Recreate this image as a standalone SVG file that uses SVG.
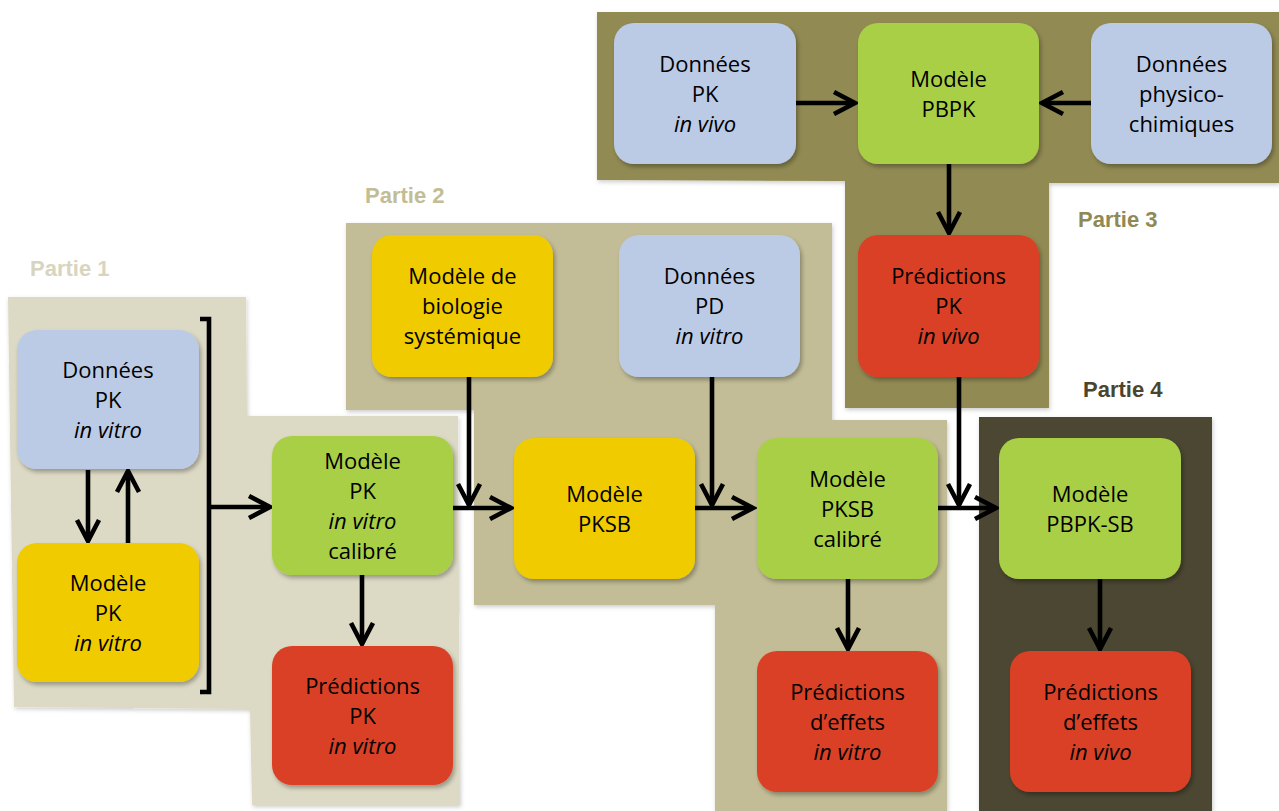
<svg xmlns="http://www.w3.org/2000/svg" width="1279" height="811" viewBox="0 0 1279 811">
<style>
.t{font-family:"Open Sans","Liberation Sans",sans-serif;font-size:22px;fill:#000;text-anchor:middle}
.i{font-style:italic}
.lab{font-family:"Liberation Sans",Arial,sans-serif;font-weight:bold;font-size:22px}
.blue{fill:#bccbe5}.green{fill:#a9cf46}.yellow{fill:#f0cb00}.red{fill:#da4125}
.c{stroke:#000;stroke-width:4.6;fill:none}
.a{marker-end:url(#arr)}
</style>
<defs>
<filter id="sh" x="-10%" y="-10%" width="130%" height="130%"><feDropShadow dx="2" dy="3" stdDeviation="2" flood-color="#000" flood-opacity="0.3"/></filter>
<filter id="bsh" x="-5%" y="-5%" width="110%" height="110%"><feDropShadow dx="1" dy="2" stdDeviation="2" flood-color="#000" flood-opacity="0.2"/></filter>
<marker id="arr" markerUnits="userSpaceOnUse" viewBox="-26 -15 30 30" markerWidth="30" markerHeight="30" refX="0" refY="0" orient="auto" overflow="visible">
<path d="M-21,-11 L0,0 L-21,11" fill="none" stroke="#000" stroke-width="4.6"/>
</marker>
</defs>

<g id="backgrounds">
<polygon id="bg-partie1" filter="url(#bsh)" fill="#dcd9c4" points="8,297 246,297 247,416 458,416 460,805 252,805 250,709 14,707"/>
<polygon id="bg-partie2" filter="url(#bsh)" fill="#c2bd96" points="346,223 832,223 832,420 947,420 947,811 715,811 715,605 474,605 474,410 346,410"/>
<polygon id="bg-partie3" filter="url(#bsh)" fill="#918a52" points="597,12 1279,12 1279,183 1049,183 1049,408 845,408 845,181 597,180"/>
<rect id="bg-partie4" filter="url(#bsh)" fill="#4b4630" x="979" y="417" width="233" height="394"/>
</g>

<g id="labels">
<text class="lab" x="30" y="276" fill="#d8d5bf">Partie 1</text>
<text class="lab" x="365" y="203" fill="#c2bd96">Partie 2</text>
<text class="lab" x="1078" y="227" fill="#8f8a55">Partie 3</text>
<text class="lab" x="1083" y="397" fill="#4a452f">Partie 4</text>
</g>

<g id="connectors">
<line class="c a" x1="88" y1="470" x2="88" y2="541"/>
<line class="c a" x1="128" y1="543" x2="128" y2="471"/>
<path class="c" d="M200,319 H209 V692 H200"/>
<line class="c a" x1="209" y1="507" x2="270" y2="507"/>
<line class="c a" x1="362" y1="575" x2="362" y2="644"/>
<line class="c a" x1="453" y1="508" x2="511" y2="508"/>
<line class="c a" x1="469" y1="377" x2="469" y2="505"/>
<line class="c a" x1="695" y1="508" x2="753" y2="508"/>
<line class="c a" x1="712" y1="377" x2="712" y2="505"/>
<line class="c a" x1="938" y1="508" x2="996" y2="508"/>
<line class="c a" x1="959" y1="377" x2="959" y2="505"/>
<line class="c a" x1="848" y1="579" x2="848" y2="649"/>
<line class="c a" x1="1100" y1="579" x2="1100" y2="649"/>
<line class="c a" x1="796" y1="103" x2="855" y2="103"/>
<line class="c a" x1="1091" y1="103" x2="1042" y2="103"/>
<line class="c a" x1="949" y1="164" x2="949" y2="233"/>
</g>

<g id="n-donnees-pk-in-vitro">
<rect class="blue" filter="url(#sh)" x="17" y="330" width="182" height="139" rx="20"/>
<text class="t" x="108" y="377.5">Données</text>
<text class="t" x="108" y="407.5">PK</text>
<text class="t i" x="108" y="437.5">in vitro</text>
</g>
<g id="n-modele-pk-in-vitro">
<rect class="yellow" filter="url(#sh)" x="17" y="543" width="182" height="139" rx="20"/>
<text class="t" x="108" y="590.5">Modèle</text>
<text class="t" x="108" y="620.5">PK</text>
<text class="t i" x="108" y="650.5">in vitro</text>
</g>
<g id="n-modele-pk-calibre">
<rect class="green" filter="url(#sh)" x="272" y="436" width="181" height="139" rx="20"/>
<text class="t" x="362.5" y="468.5">Modèle</text>
<text class="t" x="362.5" y="498.5">PK</text>
<text class="t i" x="362.5" y="528.5">in vitro</text>
<text class="t" x="362.5" y="558.5">calibré</text>
</g>
<g id="n-predictions-pk-in-vitro">
<rect class="red" filter="url(#sh)" x="272" y="646" width="181" height="139" rx="20"/>
<text class="t" x="362.5" y="693.5">Prédictions</text>
<text class="t" x="362.5" y="723.5">PK</text>
<text class="t i" x="362.5" y="753.5">in vitro</text>
</g>
<g id="n-biologie-systemique">
<rect class="yellow" filter="url(#sh)" x="372" y="235" width="181" height="142" rx="20"/>
<text class="t" x="462.5" y="284">Modèle de</text>
<text class="t" x="462.5" y="314">biologie</text>
<text class="t" x="462.5" y="344">systémique</text>
</g>
<g id="n-donnees-pd">
<rect class="blue" filter="url(#sh)" x="619" y="235" width="181" height="142" rx="20"/>
<text class="t" x="709.5" y="284">Données</text>
<text class="t" x="709.5" y="314">PD</text>
<text class="t i" x="709.5" y="344">in vitro</text>
</g>
<g id="n-modele-pksb">
<rect class="yellow" filter="url(#sh)" x="514" y="438" width="181" height="141" rx="20"/>
<text class="t" x="604.5" y="501.5">Modèle</text>
<text class="t" x="604.5" y="531.5">PKSB</text>
</g>
<g id="n-modele-pksb-calibre">
<rect class="green" filter="url(#sh)" x="757" y="438" width="181" height="141" rx="20"/>
<text class="t" x="847.5" y="486.5">Modèle</text>
<text class="t" x="847.5" y="516.5">PKSB</text>
<text class="t" x="847.5" y="546.5">calibré</text>
</g>
<g id="n-predictions-effets-in-vitro">
<rect class="red" filter="url(#sh)" x="757" y="651" width="181" height="141" rx="20"/>
<text class="t" x="847.5" y="699.5">Prédictions</text>
<text class="t" x="847.5" y="729.5">d’effets</text>
<text class="t i" x="847.5" y="759.5">in vitro</text>
</g>
<g id="n-donnees-pk-in-vivo">
<rect class="blue" filter="url(#sh)" x="614" y="23" width="182" height="141" rx="20"/>
<text class="t" x="705" y="71.5">Données</text>
<text class="t" x="705" y="101.5">PK</text>
<text class="t i" x="705" y="131.5">in vivo</text>
</g>
<g id="n-modele-pbpk">
<rect class="green" filter="url(#sh)" x="858" y="23" width="181" height="141" rx="20"/>
<text class="t" x="948.5" y="86.5">Modèle</text>
<text class="t" x="948.5" y="116.5">PBPK</text>
</g>
<g id="n-donnees-physico">
<rect class="blue" filter="url(#sh)" x="1091" y="23" width="181" height="141" rx="20"/>
<text class="t" x="1181.5" y="71.5">Données</text>
<text class="t" x="1181.5" y="101.5">physico-</text>
<text class="t" x="1181.5" y="131.5">chimiques</text>
</g>
<g id="n-predictions-pk-in-vivo">
<rect class="red" filter="url(#sh)" x="858" y="235" width="181" height="142" rx="20"/>
<text class="t" x="948.5" y="284">Prédictions</text>
<text class="t" x="948.5" y="314">PK</text>
<text class="t i" x="948.5" y="344">in vivo</text>
</g>
<g id="n-modele-pbpk-sb">
<rect class="green" filter="url(#sh)" x="999" y="438" width="182" height="141" rx="20"/>
<text class="t" x="1090" y="501.5">Modèle</text>
<text class="t" x="1090" y="531.5">PBPK-SB</text>
</g>
<g id="n-predictions-effets-in-vivo">
<rect class="red" filter="url(#sh)" x="1010" y="651" width="181" height="141" rx="20"/>
<text class="t" x="1100.5" y="699.5">Prédictions</text>
<text class="t" x="1100.5" y="729.5">d’effets</text>
<text class="t i" x="1100.5" y="759.5">in vivo</text>
</g>
</svg>
